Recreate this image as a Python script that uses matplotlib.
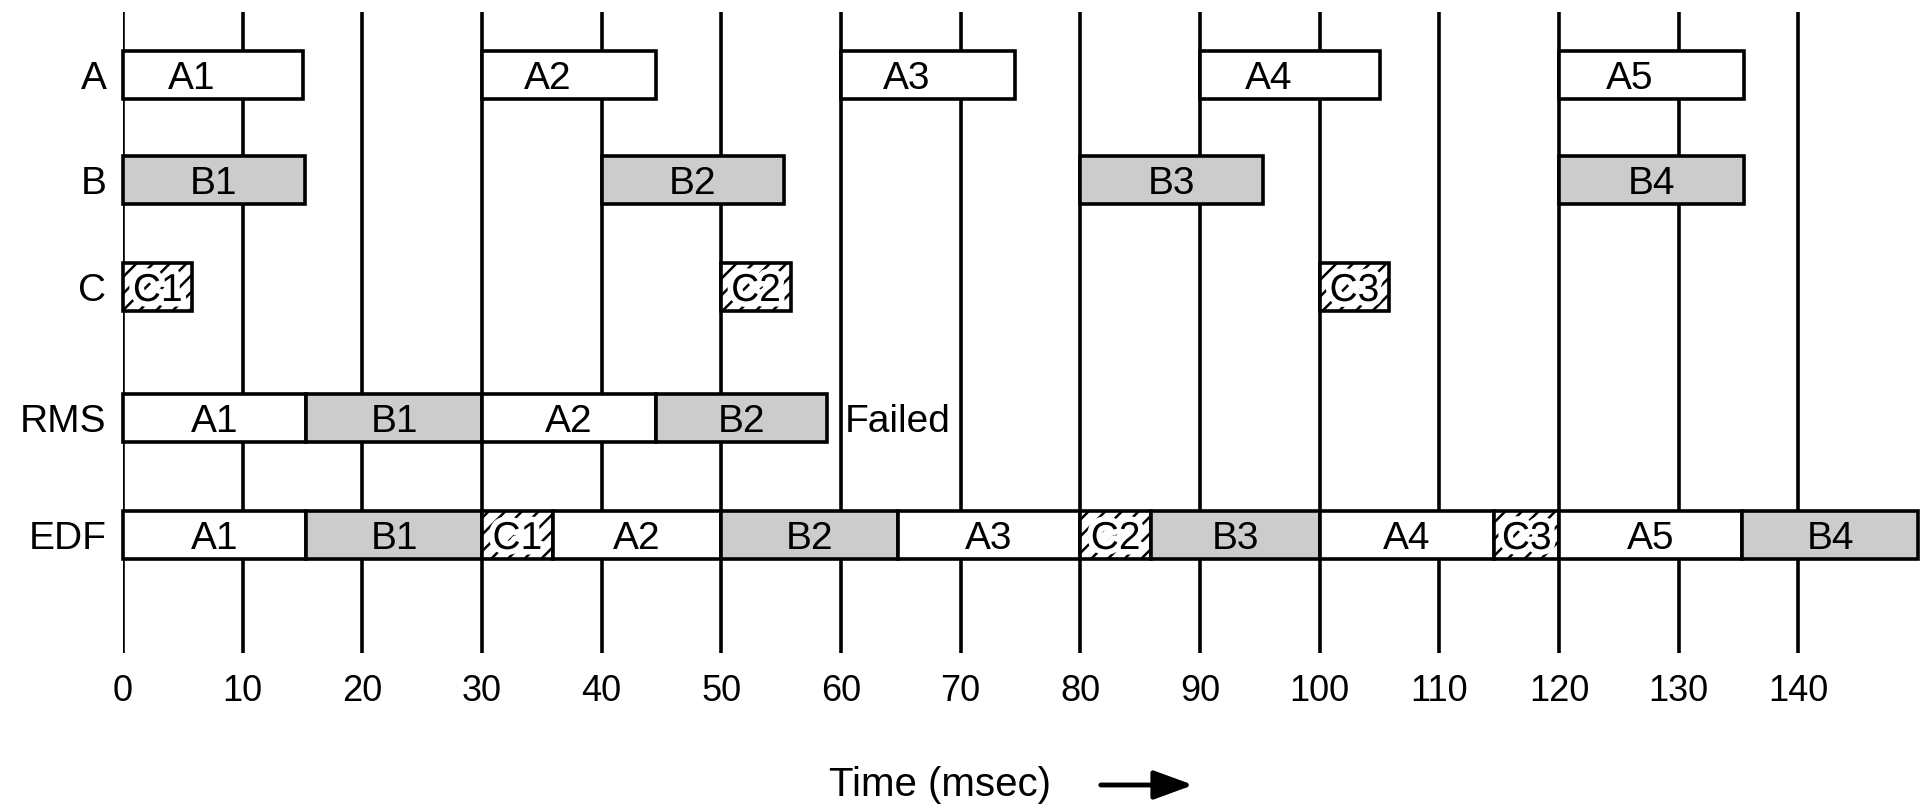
import matplotlib.pyplot as plt
from matplotlib import patheffects

plt.rcParams['font.family'] = ['Liberation Sans', 'DejaVu Sans']
plt.rcParams['hatch.linewidth'] = 1.8

rows = ['A', 'B', 'C', 'RMS', 'EDF']
ticks = list(range(0, 150, 10))

# periodic processes: (name, start, end) in msec
a_names = ['A1', 'A2', 'A3', 'A4', 'A5']
a_start = [0, 30, 60, 90, 120]
a_end = [15, 44.5, 74.5, 105, 135.5]

b_names = ['B1', 'B2', 'B3', 'B4']
b_start = [0, 40, 80, 120]
b_end = [15.2, 55.2, 95.3, 135.5]

c_names = ['C1', 'C2', 'C3']
c_start = [0, 50, 100]
c_end = [5.8, 55.8, 105.8]

# rate monotonic schedule (fails after B2)
rms_names = ['A1', 'B1', 'A2', 'B2']
rms_start = [0, 15.3, 30, 44.5]
rms_end = [15.3, 30, 44.5, 58.8]

# earliest deadline first schedule
edf_names = ['A1', 'B1', 'C1', 'A2', 'B2', 'A3', 'C2', 'B3', 'A4', 'C3', 'A5', 'B4']
edf_start = [0, 15.3, 30, 35.9, 50, 64.75, 80, 85.9, 100, 114.6, 120, 135.3]
edf_end = [15.3, 30, 35.9, 50, 64.75, 80, 85.9, 100, 114.6, 120, 135.3, 150]

# layout (axes y units are pixels from the top of the figure)
W, H = 1924, 811
row_y = [75, 180, 287, 418, 535]
bar_h = 48
fill = {'A': 'white', 'B': '#cccccc', 'C': 'white'}
hatch = {'A': None, 'B': None, 'C': '//'}

fig = plt.figure(figsize=(W / 100, H / 100), dpi=100)
ax = fig.add_axes([123 / W, (H - 653) / H, (1918 - 123) / W, (653 - 12) / H])
ax.set_xlim(0, 150)
ax.set_ylim(653, 12)
for s in ax.spines.values():
    s.set_visible(False)

for t in ticks:
    ax.axvline(t, color='black', lw=2.6, zorder=1)


def draw_row(y, names, starts, ends, frac=0.5):
    for name, x0, x1 in zip(names, starts, ends):
        k = name[0]
        ax.barh(y, x1 - x0, left=x0, height=bar_h, color=fill[k],
                edgecolor='black', linewidth=2.6, hatch=hatch[k],
                zorder=3, clip_on=False)
        txt = ax.text(x0 + frac * (x1 - x0), y + 14, name, ha='center',
                      va='baseline', fontsize=28, zorder=4)
        if k == 'C':
            txt.set_path_effects([patheffects.withStroke(linewidth=8, foreground='white')])


draw_row(row_y[0], a_names, a_start, a_end, frac=0.38)
draw_row(row_y[1], b_names, b_start, b_end)
draw_row(row_y[2], c_names, c_start, c_end)
draw_row(row_y[3], rms_names, rms_start, rms_end)
draw_row(row_y[4], edf_names, edf_start, edf_end)

ax.text(60.3, row_y[3] + 14, 'Failed', ha='left', va='baseline', fontsize=28, zorder=4)

ax.set_xticks(ticks)
ax.set_yticks(row_y, rows)
ax.tick_params(axis='x', length=0, pad=15, labelsize=26)
ax.tick_params(axis='y', length=0, pad=12, labelsize=28)

fig.text(940 / W, (H - 785) / H, 'Time (msec)', ha='center', va='center', fontsize=29)
ax.annotate('', xy=(1196 / W, (H - 785) / H), xytext=(1098 / W, (H - 785) / H),
            xycoords='figure fraction', textcoords='figure fraction',
            arrowprops=dict(arrowstyle='-|>,head_length=0.6,head_width=0.22',
                            lw=3.5, color='black', mutation_scale=40))

fig.savefig('out.png', dpi=100)
